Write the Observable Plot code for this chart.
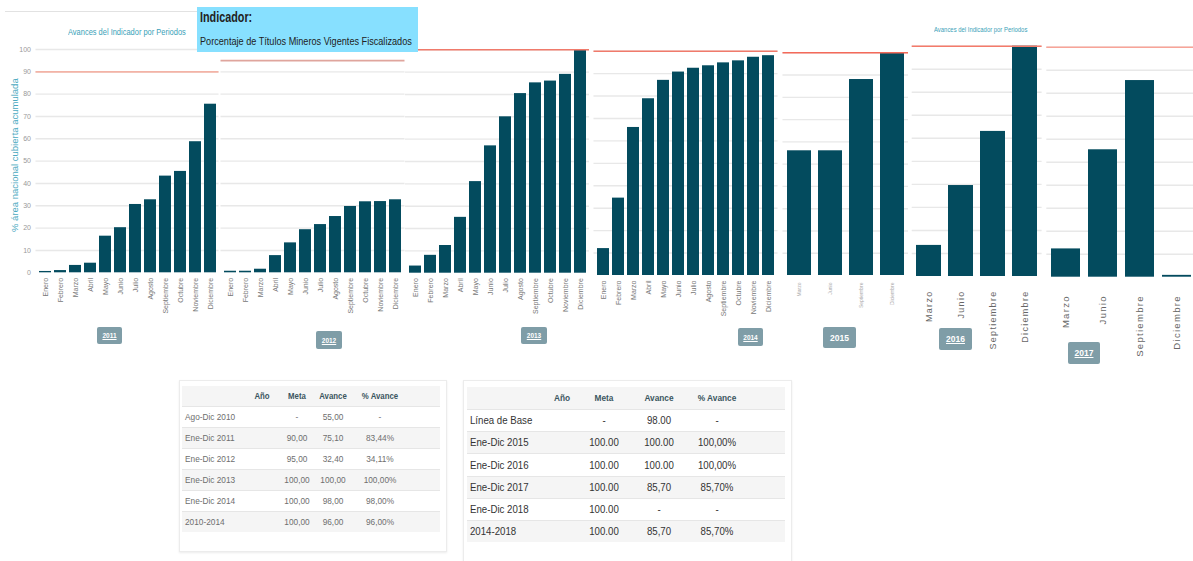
<!DOCTYPE html>
<html><head><meta charset="utf-8">
<script src="https://cdn.jsdelivr.net/npm/d3@7"></script>
<script src="https://cdn.jsdelivr.net/npm/@observablehq/plot@0.6"></script>
<style>
body{margin:0;background:#fff;font-family:"Liberation Sans",Arial,sans-serif;}
#root{position:relative;width:1193px;height:561px;overflow:hidden;background:#fff}
.abs{position:absolute}
.panel{position:absolute;top:0}
.btn{position:absolute;background:#7f9da7;border-radius:2px;color:#fff;font-weight:bold;display:flex;align-items:center;justify-content:center;text-decoration:underline}
.title{position:absolute;color:#3a9fb8;white-space:nowrap;transform-origin:0 0}
.cell{position:absolute;white-space:nowrap;transform:translate(-50%,-50%) scaleX(0.92)}
.lab{position:absolute;white-space:nowrap;transform:translate(0,-50%) scaleX(0.92);transform-origin:0 50%}
</style></head><body><div id="root"></div>
<script>
// ---- data ----
const months = ["Enero","Febrero","Marzo","Abril","Mayo","Junio","Julio","Agosto","Septiembre","Octubre","Noviembre","Diciembre"];
const quarters = ["Marzo","Junio","Septiembre","Diciembre"];
const years = ["2011","2012","2013","2014","2015","2016","2017"];
const metas = [90, 95, 100, 100, 100, 100, 100];
const avance2011 = [0.6, 1.0, 3.3, 4.3, 16.4, 20.2, 30.6, 32.7, 43.3, 45.4, 58.7, 75.5];
const avance2012 = [0.7, 0.7, 1.6, 7.7, 13.4, 19.3, 21.6, 25.2, 29.7, 31.8, 31.9, 32.7];
const avance2013 = [3.2, 8.0, 12.4, 25.0, 41.0, 57.0, 70.0, 80.4, 85.2, 86.0, 89.0, 100];
const avance2014 = [12.0, 34.5, 66.0, 78.8, 87.0, 90.7, 92.4, 93.5, 94.8, 95.7, 97.3, 98.0];
const avance2015 = [56, 56, 88, 100];
const avance2016 = [13.5, 39.5, 63, 100];
const avance2017 = [12.3, 55.4, 85.5, 0.8];
const yTicks = [0,10,20,30,40,50,60,70,80,90,100];
const yLabel = "% área nacional cubierta acumulada";
const chartTitle = "Avances del Indicador por Periodos";
const indicatorHead = "Indicador:";
const indicatorName = "Porcentaje de Títulos Mineros Vigentes Fiscalizados";

const tableHeader = ["Año","Meta","Avance","% Avance"];
const t1Labels = ["Ago-Dic 2010","Ene-Dic 2011","Ene-Dic 2012","Ene-Dic 2013","Ene-Dic 2014","2010-2014"];
const t1Meta = ["-","90,00","95,00","100,00","100,00","100,00"];
const t1Avance = ["55,00","75,10","32,40","100,00","98,00","96,00"];
const t1Pct = ["-","83,44%","34,11%","100,00%","98,00%","96,00%"];
const t2Labels = ["Línea de Base","Ene-Dic 2015","Ene-Dic 2016","Ene-Dic 2017","Ene-Dic 2018","2014-2018"];
const t2Meta = ["-","100.00","100.00","100.00","100.00","100.00"];
const t2Avance = ["98.00","100.00","100.00","85,70","-","85,70"];
const t2Pct = ["-","100,00%","100,00%","85,70%","-","85,70%"];

// ---- layout ----
const root = document.getElementById("root");
const BAR = "#034b5e";
const H = 370;
const series = [avance2011, avance2012, avance2013, avance2014, avance2015, avance2016, avance2017];
const cats = [months, months, months, months, quarters, quarters, quarters];
const cfgs = [
  {left:0, w:220, ml:35.5, mr:1.5, y100:49, y0:272.3, yaxis:true, fs:7, tp:5, col:"#777", red:"#f3b3a6"},
  {left:219, w:187, ml:1.5, mr:1.5, y100:49, y0:272.3, fs:7, tp:5, col:"#777", red:"#dfa59d"},
  {left:404, w:186, ml:1, mr:1, y100:49.3, y0:272.7, fs:7, tp:5, col:"#777", red:"#f07a6b"},
  {left:592, w:187, ml:1.5, mr:1.5, y100:50.7, y0:275, fs:7, tp:5, col:"#777", red:"#f07a6b"},
  {left:782, w:127, ml:0.5, mr:1, y100:52.3, y0:275, fs:5, tp:7, col:"#aaa", red:"#f46a5a"},
  {left:911, w:132, ml:0.7, mr:1.4, y100:45.7, y0:276, fs:9, tp:14, col:"#666", ls:"1.3px", red:"#f47a6a"},
  {left:1046, w:150, ml:0.3, mr:1.3, y100:46.7, y0:276.7, fs:9.5, tp:18, col:"#666", ls:"1.3px", red:"#f8a498"}
];

cfgs.forEach((c, k) => {
  const data = cats[k].map((m, i) => ({m, v: series[k][i]}));
  const marks = [
    Plot.ruleY(yTicks.slice(1), {stroke:"#e8e8e8", strokeWidth:1.4}),
    Plot.barY(data, {x:"m", y:"v", fill:BAR}),
    Plot.ruleY([metas[k]], {stroke:c.red, strokeWidth:1.6}),
    Plot.axisX({tickSize:0, tickRotate:-90, tickPadding:c.tp, fill:c.col, fontSize:c.fs, label:null})
  ];
  if (c.yaxis) {
    marks.push(Plot.axisY({ticks:yTicks, tickSize:0, tickPadding:5, fill:"#999", fontSize:7, label:null}));
    marks.push(Plot.text([yLabel], {frameAnchor:"left", textAnchor:"middle", lineAnchor:"middle", dx:-21, dy:-6, rotate:-90, fill:"#4aa9c0", fontSize:9.5}));
  }
  const p = Plot.plot({
    width:c.w, height:H,
    marginLeft:c.ml, marginRight:c.mr, marginTop:c.y100, marginBottom:H - c.y0,
    style:{background:"transparent", overflow:"visible", fontFamily:"Liberation Sans, Arial, sans-serif", letterSpacing:c.ls || "0px"},
    x:{type:"band", domain:cats[k], paddingInner:0.22, paddingOuter:0.1},
    y:c.yaxis ? {domain:[0,100]} : {domain:[0,100], axis:null},
    marks
  });
  p.classList.add("panel");
  p.style.left = c.left + "px";
  root.appendChild(p);
});

// year buttons
const btns = [
  [97,327,25,17,6.5,true],[316,331,26,18,6.5,true],[521,327,26,17,6.5,true],[738,328,25,18,6.5,true],
  [823,327,33,21,8.5,false],[939,328,33,22,8.5,true],[1068,342,32,22,8.5,true]
];
btns.forEach((b, i) => {
  const d = document.createElement("div");
  d.className = "btn";
  Object.assign(d.style, {left:b[0]+"px", top:b[1]+"px", width:b[2]+"px", height:b[3]+"px", fontSize:b[4]+"px", textDecoration:b[5]?"underline":"none"});
  d.textContent = years[i];
  root.appendChild(d);
});

// titles
function addDiv(cls, text, style) {
  const d = document.createElement("div");
  d.className = cls; d.textContent = text;
  Object.assign(d.style, style);
  root.appendChild(d);
  return d;
}
addDiv("title", chartTitle, {left:"68px", top:"27px", fontSize:"9px", transform:"scaleX(0.83)"});
addDiv("title", chartTitle, {left:"934px", top:"25px", fontSize:"8px", transform:"scaleX(0.74)"});
// top decorative line
addDiv("abs", "", {left:"5px", top:"11px", width:"192px", height:"1px", background:"#e2e2e2"});

// indicator box
const box = addDiv("abs", "", {left:"197px", top:"7px", width:"221px", height:"45px", background:"#87e0ff", zIndex:5});
const h1 = document.createElement("div");
h1.textContent = indicatorHead;
Object.assign(h1.style, {position:"absolute", left:"3px", top:"1px", fontSize:"15px", fontWeight:"bold", color:"#222", whiteSpace:"nowrap", transform:"scaleX(0.72)", transformOrigin:"0 0"});
box.appendChild(h1);
const h2 = document.createElement("div");
h2.textContent = indicatorName;
Object.assign(h2.style, {position:"absolute", left:"3px", top:"28px", fontSize:"11px", color:"#222", whiteSpace:"nowrap", transform:"scaleX(0.83)", transformOrigin:"0 0"});
box.appendChild(h2);

// tables
function table(t) {
  addDiv("abs", "", {left:t.x+"px", top:t.y+"px", width:t.w+"px", height:t.h+"px", border:"1px solid #ececec", boxShadow:"0 1px 2px rgba(0,0,0,0.08)"});
  addDiv("abs", "", {left:t.ix+"px", top:t.hy+"px", width:t.iw+"px", height:t.hh+"px", background:"#f5f5f5"});
  tableHeader.forEach((h, j) => addDiv("cell", h, {left:t.cx[j]+"px", top:(t.hy + t.hh/2)+"px", fontSize:t.hfs+"px", fontWeight:"bold", color:"#3b5560"}));
  t.labels.forEach((lab, i) => {
    const top = t.hy + t.hh + i*t.rh;
    if (i % 2 === 1) addDiv("abs", "", {left:t.ix+"px", top:top+"px", width:t.iw+"px", height:t.rh+"px", background:"#f5f5f5"});
    addDiv("abs", "", {left:t.ix+"px", top:top+"px", width:t.iw+"px", height:"1px", background:"#e6e6e6"});
    const cy = top + t.rh/2;
    const st = {fontSize:t.fs+"px", color:t.col};
    addDiv("lab", lab, Object.assign({left:t.lx+"px", top:cy+"px"}, st));
    addDiv("cell", t.meta[i], Object.assign({left:t.cx[1]+"px", top:cy+"px"}, st));
    addDiv("cell", t.avance[i], Object.assign({left:t.cx[2]+"px", top:cy+"px"}, st));
    addDiv("cell", t.pct[i], Object.assign({left:t.cx[3]+"px", top:cy+"px"}, st));
  });
}
table({x:179, y:380, w:266, h:170, ix:182, iw:258, hy:386, hh:20, rh:21, lx:185, cx:[262,297,333,380], hfs:8.5, fs:9, col:"#6e6e6e",
  labels:t1Labels, meta:t1Meta, avance:t1Avance, pct:t1Pct});
table({x:463, y:380, w:327, h:181, ix:467, iw:318, hy:387, hh:22, rh:22.2, lx:470, cx:[562,604,659,717], hfs:9, fs:10.5, col:"#333",
  labels:t2Labels, meta:t2Meta, avance:t2Avance, pct:t2Pct});
</script></body></html>
